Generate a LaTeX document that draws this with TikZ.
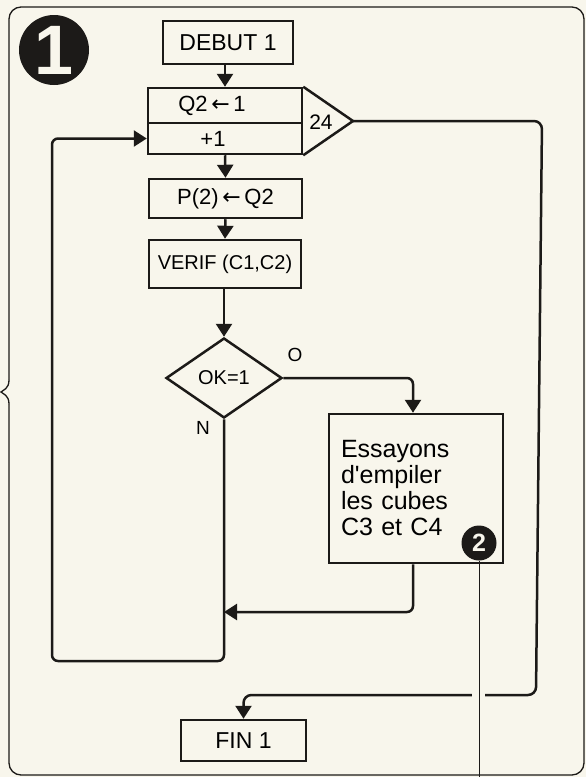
\documentclass[tikz,border=0pt]{standalone}
\usepackage{fontspec}
\setmainfont{Liberation Sans}
\newfontfamily\arrowfont{DejaVu Sans}
\usetikzlibrary{arrows.meta,shapes.geometric}
\definecolor{paper}{RGB}{248,246,236}
\definecolor{ink}{RGB}{28,26,24}
\tikzset{
  flow/.style={draw=ink, line width=2.5pt},
  box/.style={flow, rectangle, inner sep=2pt, font=\fontsize{22}{22}\selectfont},
  arr/.style={flow, -{Triangle[length=13pt,width=16pt]}},
  badge/.style={circle, fill=ink, text=paper, inner sep=0pt},
  tag/.style={font=\fontsize{19}{19}\selectfont},
}
\begin{document}
\begin{tikzpicture}[x=1pt,y=-1pt]
\fill[paper] (0,0) rectangle (586,777);
\useasboundingbox (0,0) rectangle (586,777);
% frame with its brace on the left
\draw[ink, line width=1.3pt, rounded corners=12pt] (9,380) -- (9,7) -- (584,7) -- (584,775) -- (9,775) -- (9,404);
\draw[ink, line width=1.3pt] (9,380) .. controls (9,389) and (3,390) .. (1,392) .. controls (3,394) and (9,395) .. (9,404);

\node[badge, minimum size=70, font=\fontsize{70}{70}\selectfont\bfseries] (one) at (54,50) {1};

\node[box, minimum width=130, minimum height=43, font=\fontsize{23}{23}\selectfont] (debut) at (228,42.5) {DEBUT 1};
\node[box, minimum width=154, minimum height=35] (init) at (225,105.5) {Q2\,{\arrowfont←}\,1\hspace*{26pt}};
\node[box, minimum width=154, minimum height=31] (incr) at (225,138.5) {+1\hspace*{24pt}};
\draw[flow, line join=miter] (init.north east) -- (353,121) coordinate (tip) -- (incr.south east);
\node[tag, font=\fontsize{21}{21}\selectfont] (count) at (321,122) {24};
\node[box, minimum width=153, minimum height=39] (pset) at (225.5,198.5) {P(2)\,{\arrowfont←}\,Q2};
\node[box, minimum width=152, minimum height=48, font=\fontsize{20}{20}\selectfont] (verif) at (225,264) {VERIF (C1,C2)};
\node[flow, diamond, aspect=1.45, minimum width=116, minimum height=80, inner sep=0pt,
  font=\fontsize{20}{20}\selectfont] (ok) at (224,378) {OK=1};
\node[tag] (yes) at (295,355) {O};
\node[tag] (no) at (203,428) {N};
\node[box, minimum width=174, minimum height=149, text width=150, align=left,
  font=\fontsize{25}{26}\selectfont] (essai) at (416,488.5) {Essayons\\d\textquotesingle empiler\\les cubes\\C3 et C4};
\node[badge, minimum size=35, font=\fontsize{25}{25}\selectfont\bfseries] (two) at (479,543) {2};
\node[box, minimum width=125, minimum height=41, font=\fontsize{23}{23}\selectfont] (fin) at (243.5,740.5) {FIN 1};

\coordinate (join) at (224,612);
\coordinate (lead) at (479,777);

\draw[arr] (debut.south -| init.north) -- (init.north);
\draw[arr] (incr.south) -- (pset.north);
\draw[arr] (pset.south) -- (verif.north);
\draw[arr] (verif.south -| ok.north) -- (ok.north);
\draw[arr, rounded corners=6pt] (ok.east) -| ([xshift=-3]essai.north);
\draw[arr, rounded corners=6pt] ([xshift=-3]essai.south) |- (join);
\draw[arr, rounded corners=6pt] (ok.south) |- (52,661) |- (incr.west);
\draw[arr, rounded corners=8pt] (tip) -- (542,121) -- (536,695) -| (fin.north);

% thin lead to the second badge, cutting the loop
\fill[paper] (472,689) rectangle (485,701);
\draw[ink, line width=0.8pt] (two.south) -- (lead);
\end{tikzpicture}
\end{document}
